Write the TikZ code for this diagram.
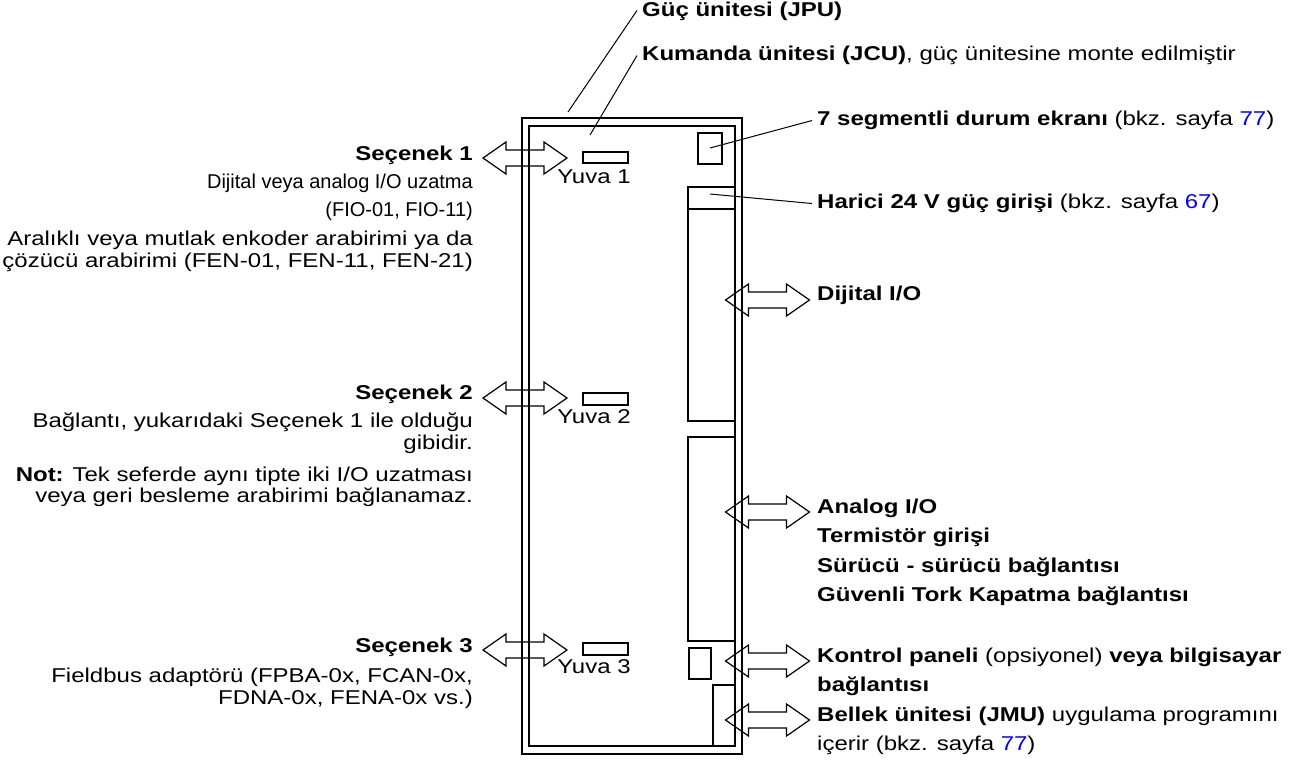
\documentclass[tikz,border=0pt]{standalone}
\usepackage{fontspec}
\setmainfont{Liberation Sans}[FakeStretch=1.2]
\newfontfamily\plainfont{Liberation Sans}
\definecolor{linkblue}{RGB}{0,0,255}
\newcommand\diagfont{\fontsize{20}{22}\selectfont}
\tikzset{
  wall/.style={line width=2.6pt},
  part/.style={line width=2.2pt},
  lead/.style={line width=1pt},
  arr/.style={draw, line width=1.2pt, fill=white, line join=miter},
  lt/.style={anchor=mid east, inner sep=0pt, font=\diagfont},
  rt/.style={anchor=mid west, inner sep=0pt, font=\diagfont},
  yuva/.style={anchor=mid, inner sep=0pt, font=\diagfont},
  dblarrow/.pic={\draw[arr] (-42,0) -- (-19,-16) -- (-19,-8) -- (19,-8) -- (19,-16) -- (42,0) -- (19,16) -- (19,8) -- (-19,8) -- (-19,16) -- cycle;}
}
\begin{document}
\begin{tikzpicture}[x=1pt,y=-1pt]
\useasboundingbox (0,0) rectangle (1294,764);
% arrows (behind the unit)
\pic (a1) at (525,158) {dblarrow};
\pic (a2) at (525,398) {dblarrow};
\pic (a3) at (525,650) {dblarrow};
\pic (a4) at (767.5,300) {dblarrow};
\pic (a5) at (767.5,512) {dblarrow};
\pic (a6) at (767.5,661) {dblarrow};
\pic (a7) at (767.5,720) {dblarrow};
% unit
\draw[wall] (522,118) rectangle (742,754);
\draw[wall] (529,126) rectangle (735,746);
\draw[part] (583,152) rectangle (628,163);
\draw[part] (583,393) rectangle (628,405);
\draw[part] (583,643) rectangle (628,655);
\draw[part] (698,133) rectangle (722,164);
\draw[part] (688,187) rectangle (735,421);
\draw[part] (688,209) -- (735,209);
\draw[part] (688,437) rectangle (735,641);
\draw[part] (689,648) rectangle (711,679);
\draw[part] (713,746) -- (713,685) -- (735,685);
\node[yuva] (y1) at (594,181) {Yuva 1};
\node[yuva] (y2) at (594,421) {Yuva 2};
\node[yuva] (y3) at (594,671) {Yuva 3};
% leader lines
\coordinate (pu) at (568,112);
\coordinate (cu) at (590,135);
\coordinate (sd) at (710,148);
\coordinate (ps) at (710,194);
\node[rt] (tpu) at (642,14) {\textbf{Güç ünitesi (JPU)}};
\node[rt] (tcu) at (642,58) {\textbf{Kumanda ünitesi (JCU)}, güç ünitesine monte edilmiştir};
\node[rt] (tsd) at (817,123) {\textbf{7 segmentli durum ekranı} (bkz. sayfa \textcolor{linkblue}{77})};
\node[rt] (tps) at (817,206) {\textbf{Harici 24 V güç girişi} (bkz. sayfa \textcolor{linkblue}{67})};
\draw[lead] (pu) -- ([xshift=-5pt,yshift=1pt]tpu.west);
\draw[lead] (cu) -- ([xshift=-5pt]tcu.west);
\draw[lead] (sd) -- ([xshift=-5pt]tsd.west);
\draw[lead] (ps) -- ([xshift=-5pt]tps.west);
% right texts
\node[rt] (tdio) at (817,298) {\textbf{Dijital I/O}};
\node[rt] (tai) at (817,511) {\textbf{Analog I/O}};
\node[rt] (tth) at (817,540) {\textbf{Termistör girişi}};
\node[rt] (tdd) at (817,570) {\textbf{Sürücü - sürücü bağlantısı}};
\node[rt] (tsto) at (817,599) {\textbf{Güvenli Tork Kapatma bağlantısı}};
\node[rt] (tkp) at (817,660) {\textbf{Kontrol paneli} (opsiyonel) \textbf{veya bilgisayar}};
\node[rt] (tkp2) at (817,689) {\textbf{bağlantısı}};
\node[rt] (tmu) at (817,719) {\textbf{Bellek ünitesi (JMU)} uygulama programını};
\node[rt] (tmu2) at (817,748) {içerir (bkz. sayfa \textcolor{linkblue}{77})};
% left texts
\node[lt] (s1) at (473,158) {\textbf{Seçenek 1}};
\node[lt] (s1a) at (473,186) {\plainfont Dijital veya analog I/O uzatma};
\node[lt] (s1b) at (473,214) {\plainfont (FIO-01, FIO-11)};
\node[lt] (s1c) at (473,243) {Aralıklı veya mutlak enkoder arabirimi ya da};
\node[lt] (s1d) at (473,265) {çözücü arabirimi (FEN-01, FEN-11, FEN-21)};
\node[lt] (s2) at (473,397) {\textbf{Seçenek 2}};
\node[lt] (s2a) at (473,425) {Bağlantı, yukarıdaki Seçenek 1 ile olduğu};
\node[lt] (s2b) at (473,447) {gibidir.};
\node[lt] (s2c) at (473,479) {\textbf{Not:} Tek seferde aynı tipte iki I/O uzatması};
\node[lt] (s2d) at (473,500) {veya geri besleme arabirimi bağlanamaz.};
\node[lt] (s3) at (473,650) {\textbf{Seçenek 3}};
\node[lt] (s3a) at (473,680) {Fieldbus adaptörü (FPBA-0x, FCAN-0x,};
\node[lt] (s3b) at (473,702) {FDNA-0x, FENA-0x vs.)};
\end{tikzpicture}
\end{document}
